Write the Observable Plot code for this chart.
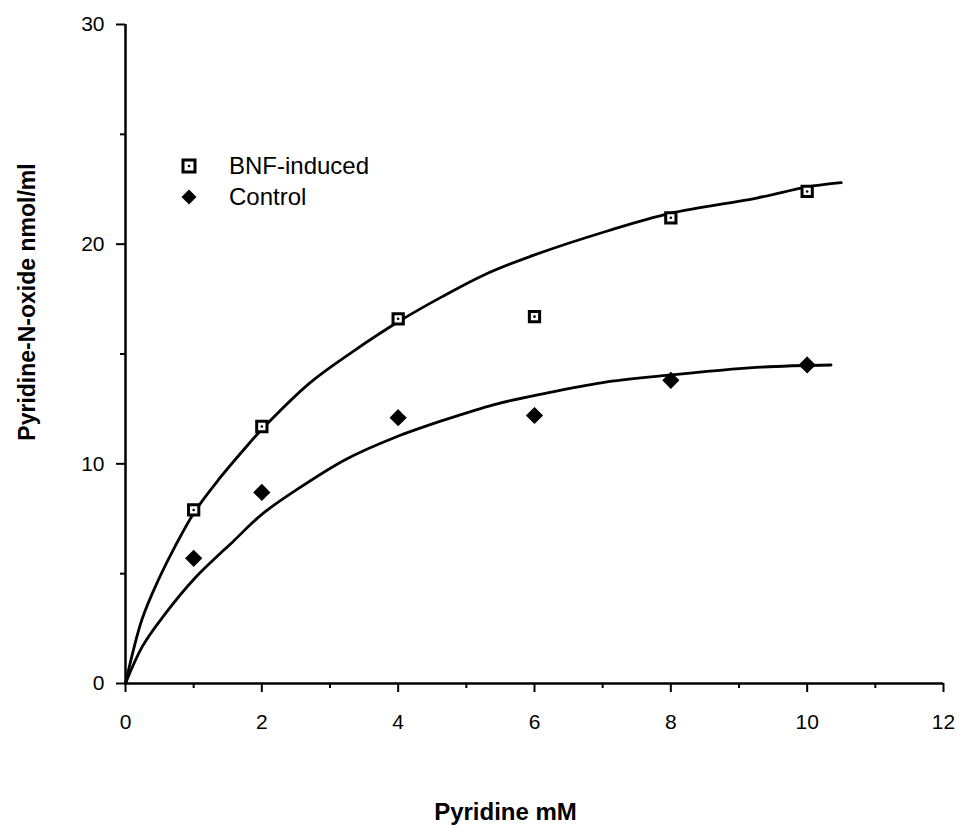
<!DOCTYPE html>
<html>
<head>
<meta charset="utf-8">
<script src="https://cdn.jsdelivr.net/npm/d3@7"></script>
<script src="https://cdn.jsdelivr.net/npm/@observablehq/plot@0.6"></script>
<style>
  body { margin: 0; background: #fff; font-family: "Liberation Sans", Arial, Helvetica, sans-serif; }
  #wrap { position: relative; width: 962px; height: 832px; }
  #legend { position: absolute; left: 180px; top: 150px; font-size: 24px; color: #000; line-height: 31px; }
  #legend .row { display: flex; align-items: center; }
  #legend svg { width: 18px; height: 18px; margin-right: 31px; }
</style>
</head>
<body>
<div id="wrap">
  <div id="chart"></div>
  <div id="legend"></div>
</div>
<script>
// Pyridine concentration (mM) of the measured points
const concentrations = [1, 2, 4, 6, 8, 10];
// Pyridine-N-oxide (nmol/ml), measured points
const bnfValues = [7.9, 11.7, 16.6, 16.7, 21.2, 22.4];
const controlValues = [5.7, 8.7, 12.1, 12.2, 13.8, 14.5];

// fitted curves
const bnfCurveX = [0, 0.24, 0.48, 0.72, 1.01, 1.37, 1.75, 2.04, 2.71, 3.33, 4.02, 4.64, 5.26, 5.99, 7.07, 7.99, 9.26, 9.99, 10.5];
const bnfCurveY = [0, 2.9, 4.7, 6.2, 7.8, 9.3, 10.7, 11.7, 13.7, 15.1, 16.5, 17.6, 18.6, 19.5, 20.6, 21.4, 22.1, 22.6, 22.8];
const controlCurveX = [0, 0.25, 0.59, 1.02, 1.59, 2.0, 2.5, 3.23, 3.95, 4.68, 5.41, 6.14, 7.0, 7.85, 9.32, 10.35];
const controlCurveY = [0, 1.7, 3.2, 4.8, 6.5, 7.7, 8.8, 10.2, 11.2, 12.0, 12.7, 13.2, 13.7, 14.0, 14.4, 14.5];

// ticks
const xMajorTicks = [0, 2, 4, 6, 8, 10, 12];
const xMinorTicks = [1, 3, 5, 7, 9, 11];
const yMajorTicks = [0, 10, 20, 30];
const yMinorTicks = [5, 15, 25];

const seriesNames = ["BNF-induced", "Control"];
const xLabel = "Pyridine mM";
const yLabel = "Pyridine-N-oxide nmol/ml";

const bnfPoints = concentrations.map((x, i) => ({x, y: bnfValues[i]}));
const controlPoints = concentrations.map((x, i) => ({x, y: controlValues[i]}));
const bnfCurve = bnfCurveX.map((x, i) => ({x, y: bnfCurveY[i]}));
const controlCurve = controlCurveX.map((x, i) => ({x, y: controlCurveY[i]}));

const chart = Plot.plot({
  width: 962,
  height: 832,
  marginLeft: 125,
  marginRight: 19,
  marginTop: 24,
  marginBottom: 149,
  style: { fontFamily: "'Liberation Sans', Arial, sans-serif", fontSize: "21px", background: "#fff", color: "#000", overflow: "visible" },
  x: { domain: [0, 12] },
  y: { domain: [0, 30] },
  marks: [
    Plot.axisX(xMajorTicks, { tickSize: 9, tickPadding: 22, strokeWidth: 2, label: null, tickFormat: d => String(d) }),
    Plot.axisX(xMinorTicks, { tickSize: 5, strokeWidth: 2, label: null, tickFormat: () => "" }),
    Plot.axisY(yMajorTicks, { tickSize: 9, tickPadding: 12, strokeWidth: 2, label: null, tickFormat: d => String(d) }),
    Plot.axisY(yMinorTicks, { tickSize: 5, strokeWidth: 2, label: null, tickFormat: () => "" }),
    Plot.ruleX([0], { strokeWidth: 2.5 }),
    Plot.ruleY([0], { strokeWidth: 2.5 }),
    Plot.line(bnfCurve, { x: "x", y: "y", curve: "catmull-rom", stroke: "#000", strokeWidth: 2.8 }),
    Plot.line(controlCurve, { x: "x", y: "y", curve: "catmull-rom", stroke: "#000", strokeWidth: 2.8 }),
    Plot.dot(bnfPoints, { x: "x", y: "y", symbol: "square", r: 5.8, fill: "#fff", stroke: "#000", strokeWidth: 3 }),
    Plot.dot(bnfPoints, { x: "x", y: "y", r: 1.3, fill: "#000" }),
    Plot.dot(controlPoints, { x: "x", y: "y", symbol: "diamond2", r: 6.8, fill: "#000", stroke: "#000" }),
    Plot.text([xLabel], { text: d => d, frameAnchor: "bottom", dx: -29, dy: 136, fontSize: 24, fontWeight: "bold" }),
    Plot.text([yLabel], { text: d => d, frameAnchor: "left", textAnchor: "middle", rotate: -90, dx: -98, dy: -52, fontSize: 23, fontWeight: "bold" })
  ]
});
document.getElementById("chart").appendChild(chart);

// legend
const legend = document.getElementById("legend");
const symbols = [
  '<svg viewBox="0 0 18 18"><rect x="3" y="3" width="12" height="12" fill="#fff" stroke="#000" stroke-width="3"/><circle cx="9" cy="9" r="1.3" fill="#000"/></svg>',
  '<svg viewBox="0 0 18 18"><path d="M9 1.5 L16.5 9 L9 16.5 L1.5 9 Z" fill="#000"/></svg>'
];
seriesNames.forEach((name, i) => {
  const row = document.createElement("div");
  row.className = "row";
  row.innerHTML = symbols[i] + "<span>" + name + "</span>";
  legend.appendChild(row);
});
</script>
</body>
</html>
